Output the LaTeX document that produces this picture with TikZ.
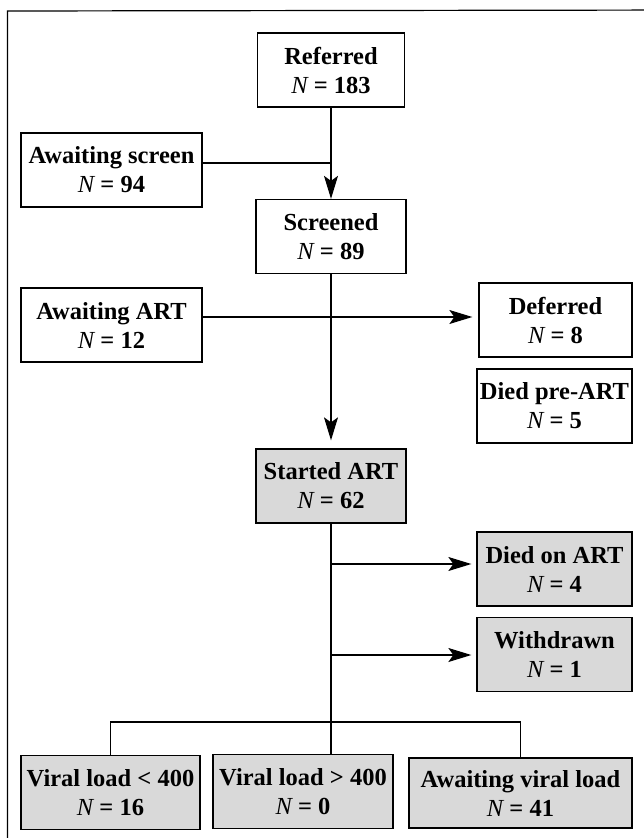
\documentclass[tikz,border=0pt]{standalone}
\usepackage{fontspec}
\setmainfont{Liberation Serif}
\usetikzlibrary{arrows.meta}
\newcommand\Nitl{{\mdseries\itshape N}}
\begin{document}
\begin{tikzpicture}[x=1pt,y=-1pt,
  box/.style={draw, line width=1.3pt, align=center, minimum height=74pt, inner sep=1pt,
    font=\fontsize{24.5}{29}\selectfont\bfseries},
  shaded/.style={box, fill=black!15},
  conn/.style={line width=1.2pt},
  arr/.style={conn, -{Stealth[length=23pt,width=14pt,inset=5pt]}}]
\useasboundingbox (0,0) rectangle (644,838);
\fill[white] (0,0) rectangle (644,838);
% outer frame (only top and left visible)
\draw[line width=1.2pt] (7.5,900) -- (7.5,11) -- (700,10);
% nodes
\node[box, minimum width=147pt] (ref) at (331,70) {Referred\\\Nitl{} = 183};
\node[box, minimum width=181pt] (ascr) at (111.5,170) {Awaiting screen\\\Nitl{} = 94};
\node[box, minimum width=150pt] (scr) at (331,236.5) {Screened\\\Nitl{} = 89};
\node[box, minimum width=181pt] (aart) at (111.5,325) {Awaiting ART\\\Nitl{} = 12};
\node[box, minimum width=153pt] (def) at (555.5,320) {Deferred\\\Nitl{} = 8};
\node[box, minimum width=155pt] (dpre) at (554.5,406) {Died pre-ART\\\Nitl{} = 5};
\node[shaded, minimum width=150pt] (start) at (331,486) {Started ART\\\Nitl{} = 62};
\node[shaded, minimum width=155pt] (dart) at (554.5,569) {Died on ART\\\Nitl{} = 4};
\node[shaded, minimum width=155pt] (wd) at (554.5,654.5) {Withdrawn\\\Nitl{} = 1};
\node[shaded, minimum width=179pt] (vl1) at (110.5,792.5) {Viral load < 400\\\Nitl{} = 16};
\node[shaded, minimum width=180pt] (vl2) at (303,791.5) {Viral load > 400\\\Nitl{} = 0};
\node[shaded, minimum width=223pt, minimum height=70pt] (avl) at (520.5,793) {Awaiting viral load\\\Nitl{} = 41};
% connectors
\draw[arr] (ref.south) -- (scr.north);
\draw[conn] ([yshift=7pt]ascr.east) -- ([yshift=7pt]ascr.east -| ref.south);
\draw[arr, shorten >=8pt] (scr.south) -- (start.north);
\coordinate (aY) at ([yshift=8pt]aart.east);
\draw[arr, shorten >=6pt] (aY) -- (aY -| def.west);
\coordinate (b1) at (331,564);
\coordinate (b2) at (331,655);
\draw[arr, shorten >=5pt] (b1) -- (b1 -| dart.west);
\draw[arr, shorten >=5pt] (b2) -- (b2 -| wd.west);
\draw[conn] (start.south) -- (start.south |- vl2.north);
\coordinate (bus) at (331,722);
\draw[conn] (vl1.north) -- (vl1.north |- bus) -- (bus -| avl.north) -- (avl.north);
\end{tikzpicture}
\end{document}
